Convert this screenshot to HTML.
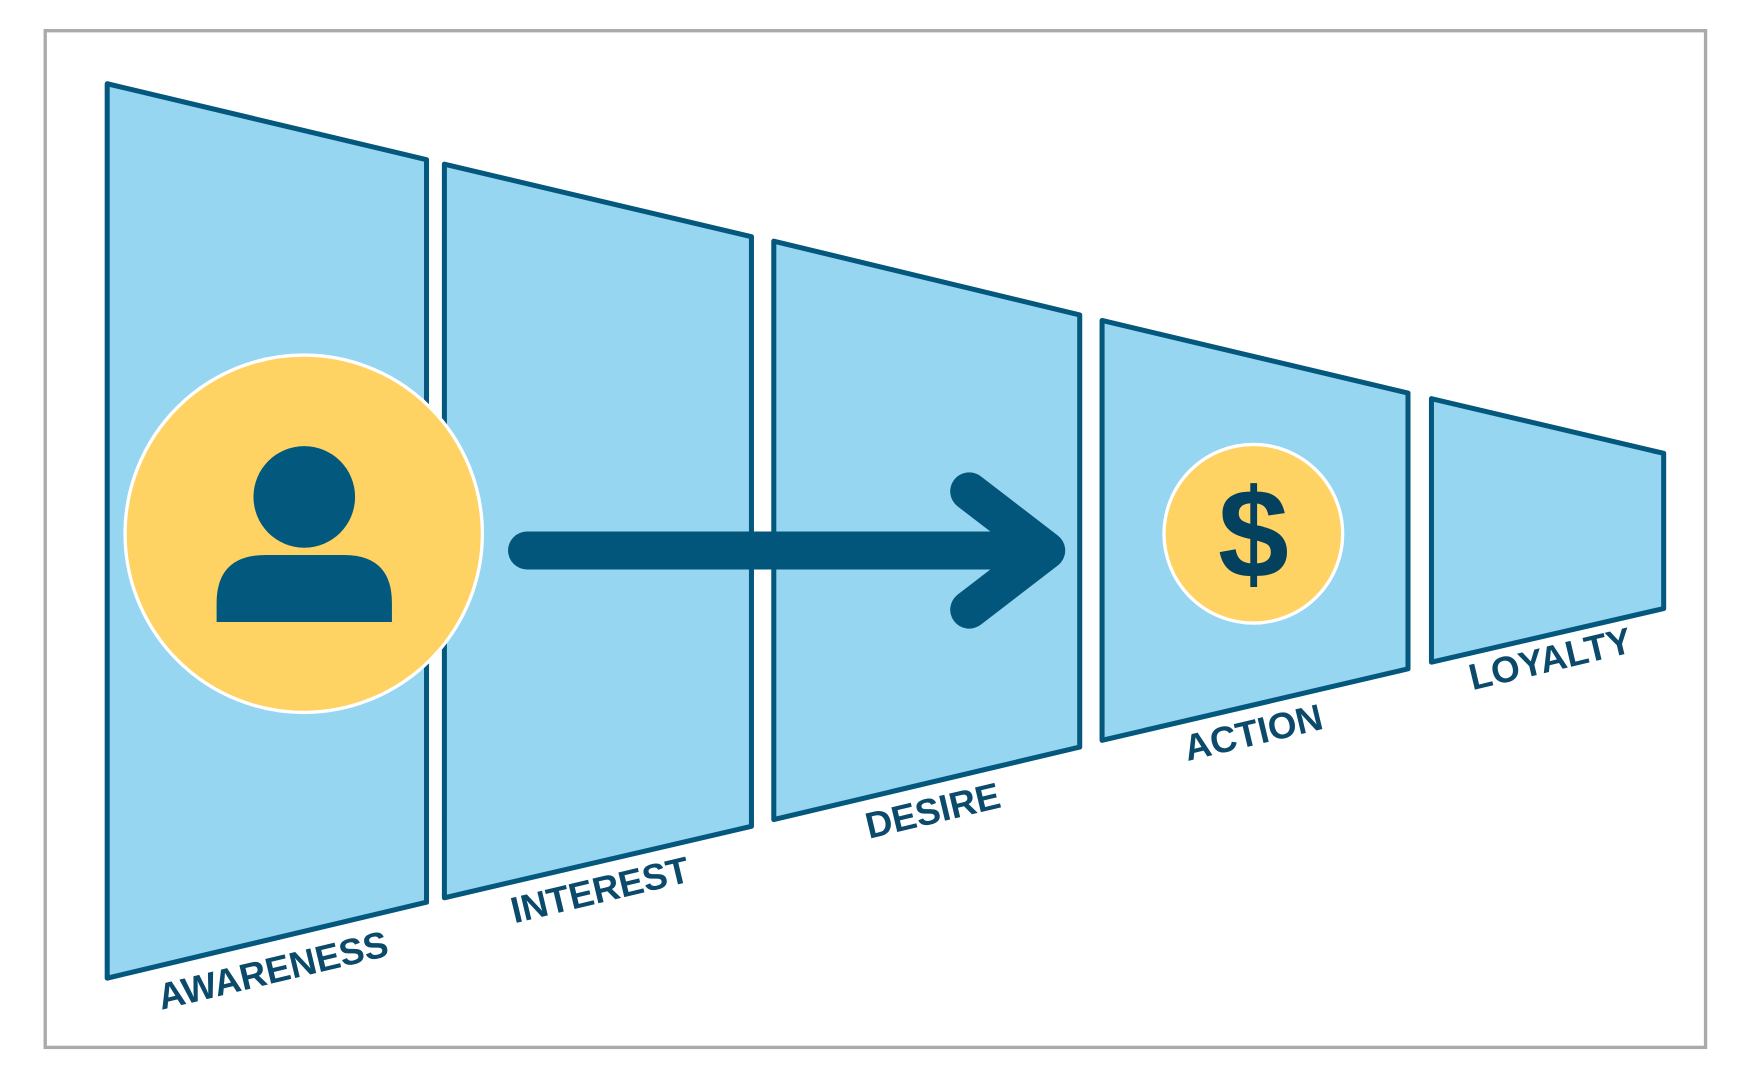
<!DOCTYPE html>
<html><head><meta charset="utf-8"><style>html,body{margin:0;padding:0;background:#fff}svg{display:block}</style></head>
<body>
<svg width="1750" height="1080" viewBox="0 0 1567.3 967.2" preserveAspectRatio="none" xmlns="http://www.w3.org/2000/svg">
<rect x="40.5" y="27.5" width="1487" height="910.5" fill="#fff" stroke="#aaaaaa" stroke-width="3"/>
<g fill="#96d6f1" stroke="#04577d" stroke-width="4.5" stroke-linejoin="round">
<polygon points="96,75 382,143 382,808 96,876"/>
<polygon points="398,147 673,212 673,740 398,804"/>
<polygon points="693,216 967,282 967,669 693,734"/>
<polygon points="987,287 1261,352 1261,599 987,663"/>
<polygon points="1282,357 1490,406 1490,545 1282,593"/>
</g>
<circle cx="272" cy="478" r="160" fill="#fed263" stroke="#fff" stroke-width="3"/>
<circle cx="272.5" cy="445" r="45.5" fill="#02587d"/>
<path d="M194,557 L194,540 Q194,497 238,497 L308,497 Q351,497 351,540 L351,557 Z" fill="#02587d"/>
<g stroke="#02567b" stroke-width="34" stroke-linecap="round" stroke-linejoin="round" fill="none">
<line x1="472" y1="493" x2="935" y2="493"/>
<polyline points="868,440 937,493 868,546"/>
</g>
<circle cx="1122.5" cy="478" r="80" fill="#fed263" stroke="#fff" stroke-width="3"/>
<text x="1122.5" y="517" text-anchor="middle" font-family="Liberation Sans, sans-serif" font-weight="bold" font-size="114" fill="#03415e">$</text>
<g font-family="Liberation Sans, sans-serif" font-weight="bold" font-size="33" fill="#0b4a6a" text-anchor="middle">
<text transform="translate(247,880) rotate(-13.4)">AWARENESS</text>
<text transform="translate(540,808) rotate(-13.4)">INTEREST</text>
<text transform="translate(838,737) rotate(-13.4)">DESIRE</text>
<text transform="translate(1125,667) rotate(-13.4)">ACTION</text>
<text transform="translate(1391,601) rotate(-13.4)">LOYALTY</text>
</g>
</svg>
</body></html>
